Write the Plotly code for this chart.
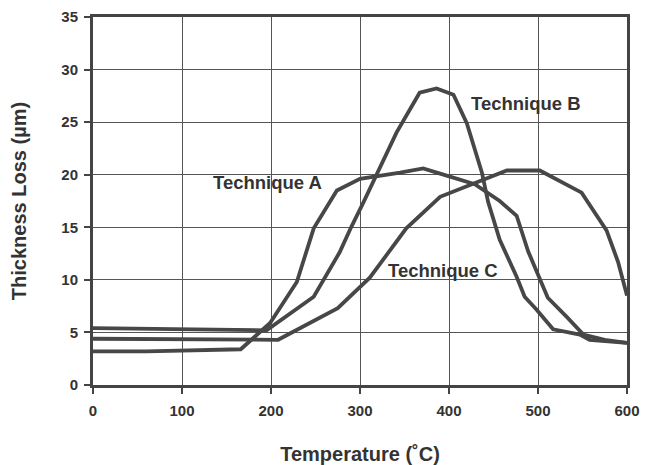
import plotly.graph_objects as go

# Technique A
a_temp = [0, 60, 166, 199, 229, 248, 274, 300, 345, 371, 390, 429, 457, 476, 489, 502, 511, 532, 551, 575, 600]
a_loss = [3.2, 3.2, 3.4, 5.9, 9.8, 14.9, 18.5, 19.6, 20.2, 20.6, 20.1, 19.1, 17.5, 16.1, 12.7, 10.2, 8.3, 6.5, 4.8, 4.3, 4.0]

# Technique B
b_temp = [0, 195, 248, 277, 290, 304, 341, 367, 386, 405, 420, 437, 444, 457, 476, 485, 498, 517, 547, 558, 600]
b_loss = [5.4, 5.2, 8.4, 12.6, 15.0, 17.4, 24.0, 27.8, 28.2, 27.6, 24.9, 20.2, 17.4, 13.8, 10.3, 8.4, 7.2, 5.3, 4.8, 4.3, 4.0]

# Technique C
c_temp = [0, 208, 275, 311, 352, 390, 465, 502, 549, 577, 590, 596, 600]
c_loss = [4.4, 4.3, 7.3, 10.2, 14.9, 17.9, 20.4, 20.4, 18.3, 14.7, 11.7, 9.6, 8.5]

labels = ["Technique A", "Technique B", "Technique C"]
label_x = [196, 486, 393]
label_y = [19.3, 26.8, 10.9]

x_ticks = [0, 100, 200, 300, 400, 500, 600]
y_ticks = [0, 5, 10, 15, 20, 25, 30, 35]

line_color = "#474747"
text_color = "#333333"
font_family = "Liberation Sans, Arial, sans-serif"

fig = go.Figure()
for name, xs, ys in [(labels[0], a_temp, a_loss), (labels[1], b_temp, b_loss), (labels[2], c_temp, c_loss)]:
    fig.add_trace(go.Scatter(x=xs, y=ys, mode="lines", name=name,
                             line=dict(color=line_color, width=3.8), showlegend=False))

for t, x, y in zip(labels, label_x, label_y):
    fig.add_annotation(x=x, y=y, text="<b>" + t + "</b>", showarrow=False,
                       font=dict(family=font_family, size=18.5, color=text_color))

fig.update_layout(
    width=641, height=457,
    margin=dict(l=85, r=22, t=9, b=80),
    paper_bgcolor="white", plot_bgcolor="white",
    font=dict(family=font_family, color=text_color),
    xaxis=dict(range=[0, 600], tickvals=x_ticks, ticktext=["<b>%d</b>" % v for v in x_ticks],
               showgrid=True, gridcolor="#555555", gridwidth=1.2, automargin=False,
               showline=True, linecolor="#444444", linewidth=3, mirror=True,
               ticks="outside", ticklen=6, tickwidth=2, tickcolor="#444444",
               ticklabelstandoff=4, ticklabeloverflow="allow",
               tickfont=dict(size=15, color=text_color), zeroline=False,
               title=dict(text="<b>Temperature (˚C)</b>", font=dict(size=20, color=text_color), standoff=36)),
    yaxis=dict(range=[0, 35], tickvals=y_ticks, ticktext=["<b>%d</b>" % v for v in y_ticks],
               showgrid=True, gridcolor="#555555", gridwidth=1.2, automargin=False,
               showline=True, linecolor="#444444", linewidth=3, mirror=True,
               ticks="outside", ticklen=6, tickwidth=2, tickcolor="#444444",
               ticklabelstandoff=3, ticklabeloverflow="allow",
               tickfont=dict(size=15, color=text_color), zeroline=False,
               title=dict(text="<b>Thickness Loss (µm)</b>", font=dict(size=20, color=text_color), standoff=35)),
)

fig.write_html("out.html")
